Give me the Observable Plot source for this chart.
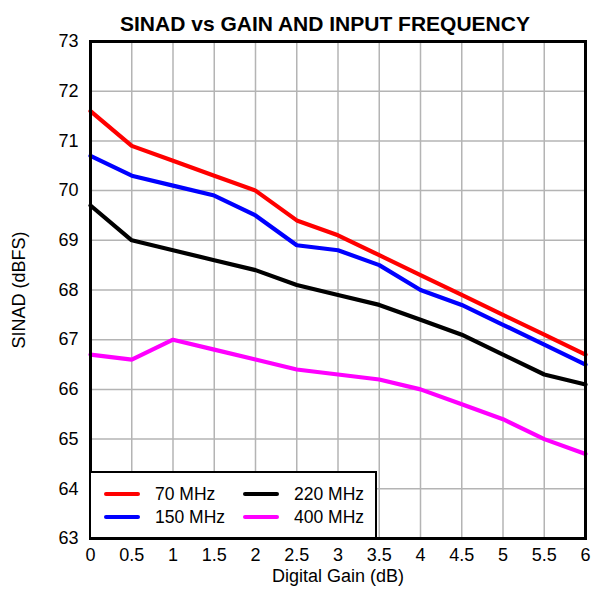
<!DOCTYPE html>
<html><head><meta charset="utf-8">
<script src="https://cdn.jsdelivr.net/npm/d3@7"></script>
<script src="https://cdn.jsdelivr.net/npm/@observablehq/plot@0.6"></script>
<style>
body{margin:0;background:#fff;font-family:"Liberation Sans",Arial,sans-serif}
#wrap{position:relative;width:591px;height:593px}
#legend{position:absolute;left:89px;top:471px;width:284px;height:64px;background:#fff;border:2px solid #000;font-size:17.5px;color:#000}
.item{position:absolute;display:flex;align-items:center;height:20px}
.sw{width:36px;height:4px;border-radius:2px;margin-right:15px}
</style></head><body><div id="wrap"></div><script>
const gain = [0, 0.5, 1, 1.5, 2, 2.5, 3, 3.5, 4, 4.5, 5, 5.5, 6];
const sinad70  = [71.6, 70.9, 70.6, 70.3, 70.0, 69.4, 69.1, 68.7, 68.3, 67.9, 67.5, 67.1, 66.7];
const sinad150 = [70.7, 70.3, 70.1, 69.9, 69.5, 68.9, 68.8, 68.5, 68.0, 67.7, 67.3, 66.9, 66.5];
const sinad220 = [69.7, 69.0, 68.8, 68.6, 68.4, 68.1, 67.9, 67.7, 67.4, 67.1, 66.7, 66.3, 66.1];
const sinad400 = [66.7, 66.6, 67.0, 66.8, 66.6, 66.4, 66.3, 66.2, 66.0, 65.7, 65.4, 65.0, 64.7];
const seriesNames = ["70 MHz", "150 MHz", "220 MHz", "400 MHz"];
const seriesColors = ["#ff0000", "#0000ff", "#000000", "#ff00ff"];
const xTicks = [0, 0.5, 1, 1.5, 2, 2.5, 3, 3.5, 4, 4.5, 5, 5.5, 6];
const yTicks = [63, 64, 65, 66, 67, 68, 69, 70, 71, 72, 73];
const titleText = "SINAD vs GAIN AND INPUT FREQUENCY";
const xLabel = "Digital Gain (dB)";
const yLabel = "SINAD (dBFS)";

const seriesValues = [sinad70, sinad150, sinad220, sinad400];
const data = seriesNames.flatMap((s, i) => gain.map((g, j) => ({series: s, gain: g, sinad: seriesValues[i][j]})));

const chart = Plot.plot({
  width: 591, height: 593,
  marginLeft: 90, marginRight: 6, marginTop: 41, marginBottom: 55,
  style: {fontFamily: '"Liberation Sans", Arial, sans-serif', fontSize: "18px", color: "#000", background: "#fff", overflow: "visible"},
  x: {domain: [0, 6]},
  y: {domain: [63, 73]},
  color: {domain: seriesNames, range: seriesColors},
  marks: [
    Plot.gridX(xTicks, {stroke: "#b4b4b4", strokeOpacity: 1, strokeWidth: 1.5}),
    Plot.gridY(yTicks, {stroke: "#b4b4b4", strokeOpacity: 1, strokeWidth: 1.5}),
    Plot.line(data, {x: "gain", y: "sinad", z: "series", stroke: "series", strokeWidth: 4.2, strokeLinejoin: "miter"}),
    Plot.frame({stroke: "#000", strokeWidth: 3}),
    Plot.axisX(xTicks, {tickSize: 0, tickPadding: 10, tickFormat: d => String(d), label: null, fontSize: 18}),
    Plot.axisY(yTicks, {tickSize: 0, tickPadding: 12, tickFormat: d => String(d), label: null, fontSize: 18}),
    Plot.text([titleText], {frameAnchor: "top", dx: -13, dy: -25, fontWeight: "bold", fontSize: 21}),
    Plot.text([xLabel], {frameAnchor: "bottom", dy: 43, fontSize: 18}),
    Plot.text([yLabel], {frameAnchor: "left", dx: -71, rotate: -90, textAnchor: "middle", fontSize: 18})
  ]
});
const wrap = document.getElementById("wrap");
wrap.appendChild(chart);

const legend = document.createElement("div");
legend.id = "legend";
const pos = [[13, 11], [13, 34], [152, 11], [152, 34]];
seriesNames.forEach((name, i) => {
  const it = document.createElement("div");
  it.className = "item";
  it.style.left = pos[i][0] + "px";
  it.style.top = pos[i][1] + "px";
  const sw = document.createElement("div");
  sw.className = "sw";
  sw.style.background = seriesColors[i];
  const lb = document.createElement("span");
  lb.textContent = name;
  it.appendChild(sw); it.appendChild(lb);
  legend.appendChild(it);
});
wrap.appendChild(legend);
</script></body></html>
